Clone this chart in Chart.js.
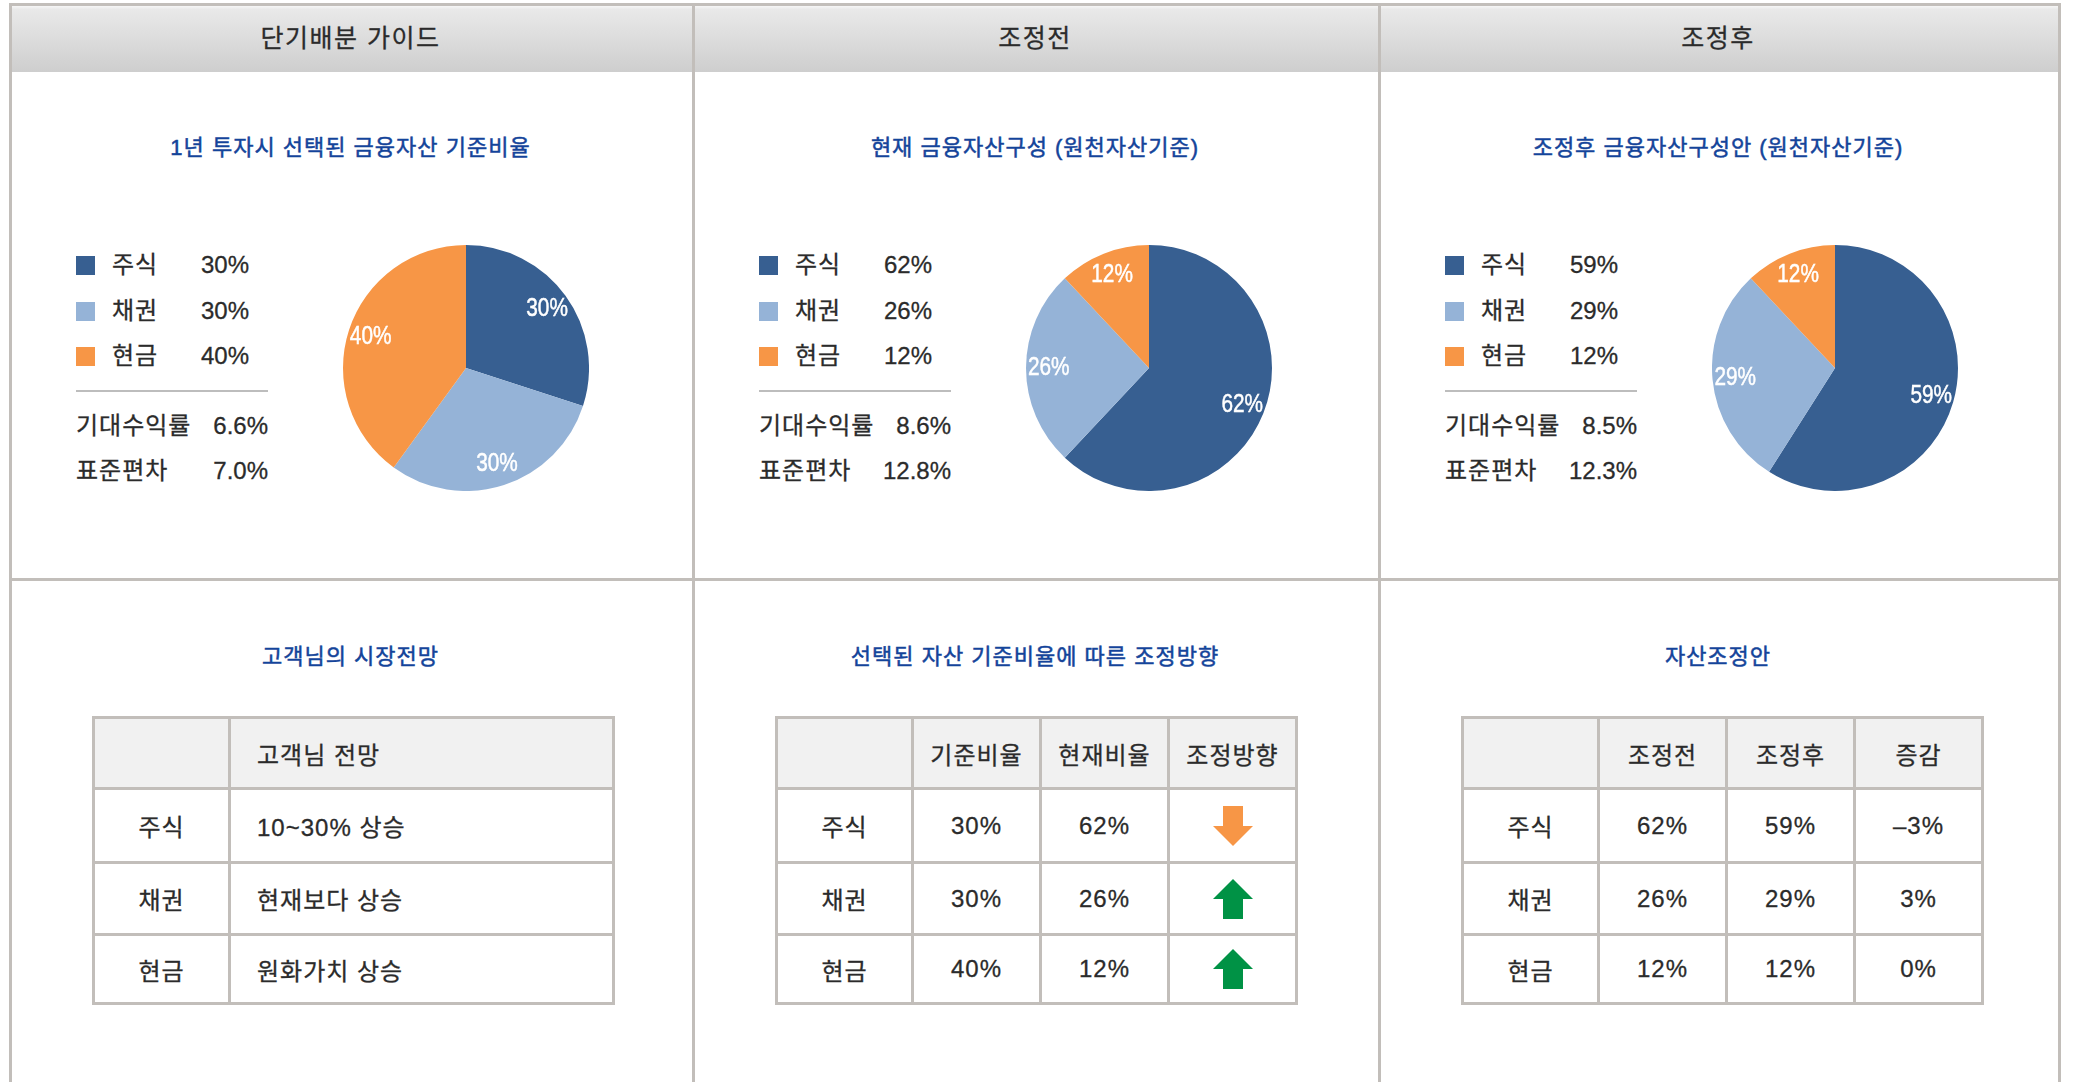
<!DOCTYPE html>
<html lang="ko">
<head>
<meta charset="UTF-8">
<title>자산배분 조정</title>
<script src="https://cdn.jsdelivr.net/npm/chart.js"></script>
<style>
    body { margin: 0; width: 2073px; height: 1082px; overflow: hidden; background: #fff;
           font-family: 'Liberation Sans', 'Noto Sans CJK KR', sans-serif; color: #2b2b2b; }
    .line { position: absolute; background: #c2beba; }
    .head { position: absolute; left: 9px; top: 6px; width: 2052px; height: 66px;
            background: linear-gradient(#f6f6f6 0, #e9e9e9 5%, #cecece 100%); }
    .panel { position: absolute; top: 0; height: 1082px; }
    .txt { position: absolute; height: 30px; line-height: 30px; font-size: 24px; letter-spacing: 1px;
           white-space: nowrap; -webkit-text-stroke: 0.3px currentColor; }
    .center { left: 0; right: 0; text-align: center; }
    .headtxt { font-size: 25px; letter-spacing: 1.5px; }
    .title { color: #14449a; font-size: 22px; -webkit-text-stroke: 0.5px currentColor; }
    .sq { position: absolute; width: 19px; height: 19px; }
    .sep { position: absolute; height: 2px; background: #bdbdbd; }
    canvas { position: absolute; }
    table { position: absolute; border-collapse: collapse; table-layout: fixed; width: 520px; }
    td { border: 3px solid #c2beba; font-size: 24px; letter-spacing: 1px; color: #2b2b2b; padding: 0;
         text-align: center; -webkit-text-stroke: 0.3px currentColor; }
    tr.hd td { background: #f1f1f1; }
    td.left { text-align: left; padding-left: 26px; }
    td svg { display: block; margin: 0 auto; }
</style>
</head>
<body>
<div class="line" style="left:9px;top:3px;width:2052px;height:3px"></div>
<div class="head"></div>
<div class="line" style="left:9px;top:3px;width:3px;height:1079px"></div>
<div class="line" style="left:692px;top:3px;width:3px;height:1079px"></div>
<div class="line" style="left:1378px;top:3px;width:3px;height:1079px"></div>
<div class="line" style="left:2058px;top:3px;width:3px;height:1079px"></div>
<div class="line" style="left:9px;top:578px;width:2052px;height:3px"></div>
<div id="board"></div>

<script>
    const assets = ['주식', '채권', '현금'];
    const columnHeads = ['단기배분 가이드', '조정전', '조정후'];
    const pieTitles = ['1년 투자시 선택된 금융자산 기준비율', '현재 금융자산구성 (원천자산기준)', '조정후 금융자산구성안 (원천자산기준)'];
    const tableTitles = ['고객님의 시장전망', '선택된 자산 기준비율에 따른 조정방향', '자산조정안'];

    const guideRatio = [30, 30, 40];
    const currentRatio = [62, 26, 12];
    const adjustedRatio = [59, 29, 12];

    const statLabels = ['기대수익률', '표준편차'];
    const guideStats = ['6.6%', '7.0%'];
    const currentStats = ['8.6%', '12.8%'];
    const adjustedStats = ['8.5%', '12.3%'];

    const outlookHead = ['', '고객님 전망'];
    const outlook = ['10~30% 상승', '현재보다 상승', '원화가치 상승'];
    const directionHead = ['', '기준비율', '현재비율', '조정방향'];
    const direction = ['down', 'up', 'up'];
    const planHead = ['', '조정전', '조정후', '증감'];
    const change = ['–3%', '3%', '0%'];

    const sliceColors = ['#375f91', '#95b3d7', '#f79646'];
    const colX = [9, 692, 1378];
    const colW = [683, 686, 680];
    const rowHeights = [71, 74, 72, 69];

    // 파이 조각 안의 흰색 퍼센트 라벨
    const sliceLabels = {
        id: 'sliceLabels',
        afterDatasetsDraw(chart) {
            const ctx = chart.ctx;
            const values = chart.data.datasets[0].data;
            chart.getDatasetMeta(0).data.forEach((arc, i) => {
                const p = arc.getProps(['x', 'y', 'startAngle', 'endAngle', 'outerRadius'], true);
                const mid = (p.startAngle + p.endAngle) / 2;
                const r = p.outerRadius * 0.815;
                ctx.save();
                ctx.translate(p.x + Math.cos(mid) * r, p.y + Math.sin(mid) * r);
                ctx.scale(0.8, 1);
                ctx.font = '26px "Liberation Sans", Arial, sans-serif';
                ctx.fillStyle = '#fff';
                ctx.strokeStyle = '#fff';
                ctx.lineWidth = 0.5;
                ctx.textAlign = 'center';
                ctx.textBaseline = 'middle';
                ctx.fillText(values[i] + '%', 0, 0);
                ctx.strokeText(values[i] + '%', 0, 0);
                ctx.restore();
            });
        }
    };

    function addText(panel, text, cls, style) {
        const d = document.createElement('div');
        d.className = 'txt ' + cls;
        d.textContent = text;
        d.setAttribute('style', style);
        panel.appendChild(d);
    }

    function arrowSvg(dir) {
        if (dir === 'down') {
            return '<svg width="40" height="40" viewBox="0 0 40 40"><polygon points="10,0 30,0 30,20 40,20 20,40 0,20 10,20" fill="#f79646"/></svg>';
        }
        return '<svg width="40" height="40" viewBox="0 0 40 40"><polygon points="20,0 40,20 30,20 30,40 10,40 10,20 0,20" fill="#009245"/></svg>';
    }

    function buildTable(panel, head, rows, widths) {
        const t = document.createElement('table');
        t.style.left = '83px';
        t.style.top = '716px';
        const wide = widths.length === 2;
        let html = '<colgroup>' + widths.map(w => '<col style="width:' + w + 'px">').join('') + '</colgroup>';
        html += '<tr class="hd" style="height:' + rowHeights[0] + 'px">' +
            head.map(h => '<td' + (wide && h ? ' class="left"' : '') + '>' + h + '</td>').join('') + '</tr>';
        rows.forEach((r, i) => {
            html += '<tr style="height:' + rowHeights[i + 1] + 'px">' +
                r.map((c, j) => '<td' + (wide && j === 1 ? ' class="left"' : '') + '>' + c + '</td>').join('') + '</tr>';
        });
        t.innerHTML = html;
        panel.appendChild(t);
    }

    const ratios = [guideRatio, currentRatio, adjustedRatio];
    const stats = [guideStats, currentStats, adjustedStats];
    const board = document.getElementById('board');

    for (let c = 0; c < 3; c++) {
        const panel = document.createElement('div');
        panel.className = 'panel';
        panel.style.left = colX[c] + 'px';
        panel.style.width = colW[c] + 'px';
        board.appendChild(panel);

        addText(panel, columnHeads[c], 'center headtxt', 'top:23px;');
        addText(panel, pieTitles[c], 'center title', 'top:133px;');

        // 범례
        const rowY = [265, 311, 356];
        assets.forEach((a, i) => {
            const sq = document.createElement('div');
            sq.className = 'sq';
            sq.style.left = '67px';
            sq.style.top = (rowY[i] - 9) + 'px';
            sq.style.background = sliceColors[i];
            panel.appendChild(sq);
            addText(panel, a, '', 'left:103px;top:' + (rowY[i] - 15) + 'px;');
            addText(panel, ratios[c][i] + '%', '', 'right:' + (colW[c] - 240) + 'px;top:' + (rowY[i] - 15) + 'px;letter-spacing:0;');
        });
        const sep = document.createElement('div');
        sep.className = 'sep';
        sep.style.left = '67px';
        sep.style.width = '192px';
        sep.style.top = '390px';
        panel.appendChild(sep);
        const statY = [426, 471];
        statLabels.forEach((s, i) => {
            addText(panel, s, '', 'left:67px;top:' + (statY[i] - 15) + 'px;');
            addText(panel, stats[c][i], '', 'right:' + (colW[c] - 259) + 'px;top:' + (statY[i] - 15) + 'px;letter-spacing:0;');
        });

        // 파이 차트
        const cv = document.createElement('canvas');
        cv.width = 246;
        cv.height = 246;
        cv.style.left = '334px';
        cv.style.top = '245px';
        panel.appendChild(cv);
        new Chart(cv, {
            type: 'pie',
            data: {
                labels: assets,
                datasets: [{ data: ratios[c], backgroundColor: sliceColors, borderWidth: 0 }]
            },
            options: {
                responsive: false, animation: false,
                layout: { padding: 0 },
                plugins: { legend: { display: false }, tooltip: { enabled: false } }
            },
            plugins: [sliceLabels]
        });

        addText(panel, tableTitles[c], 'center title', 'top:642px;');
    }

    const panels = board.children;
    buildTable(panels[0], outlookHead, assets.map((a, i) => [a, outlook[i]]), [136, 384]);
    buildTable(panels[1], directionHead,
        assets.map((a, i) => [a, guideRatio[i] + '%', currentRatio[i] + '%', arrowSvg(direction[i])]), [136, 128, 128, 128]);
    buildTable(panels[2], planHead,
        assets.map((a, i) => [a, currentRatio[i] + '%', adjustedRatio[i] + '%', change[i]]), [136, 128, 128, 128]);
</script>
</body>
</html>
